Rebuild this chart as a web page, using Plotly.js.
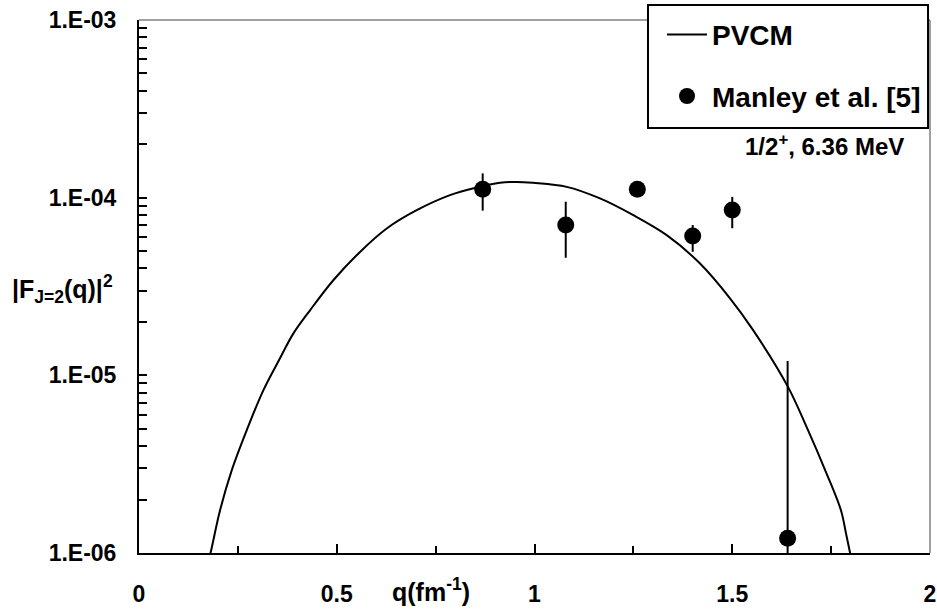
<!DOCTYPE html>
<html>
<head>
<meta charset="utf-8">
<script src="https://cdn.plot.ly/plotly-3.0.1.min.js"></script>
<style>html,body{margin:0;padding:0;background:#fff;}#chart{width:937px;height:609px;}</style>
</head>
<body>
<div id="chart"></div>
<script>
// PVCM curve
var curveQ = [0.1745, 0.1813, 0.2048, 0.2344, 0.2723, 0.3143, 0.3565, 0.3901, 0.4324, 0.4913, 0.5588, 0.6263, 0.7022, 0.7863, 0.8539, 0.9128, 0.955, 0.9962, 1.0814, 1.1656, 1.2498, 1.3343, 1.4185, 1.4943, 1.5532, 1.6402, 1.6882, 1.7388, 1.775, 1.7876, 1.7977, 1.8028];
var curveF = [8.84e-7, 1.010e-6, 1.736e-6, 2.916e-6, 4.90e-6, 8.23e-6, 1.247e-5, 1.717e-5, 2.323e-5, 3.429e-5, 4.951e-5, 6.708e-5, 8.50e-5, 1.033e-4, 1.141e-4, 1.212e-4, 1.227e-4, 1.212e-4, 1.150e-4, 9.90e-5, 7.97e-5, 6.15e-5, 4.26e-5, 2.715e-5, 1.792e-5, 8.67e-6, 5.11e-6, 2.79e-6, 1.735e-6, 1.29e-6, 1.007e-6, 8.84e-7];

// Manley et al. [5] data
var dataQ = [0.869, 1.079, 1.260, 1.400, 1.500, 1.640];
var dataF = [1.114e-4, 7.02e-5, 1.114e-4, 6.08e-5, 8.53e-5, 1.21e-6];
var errPlus = [2.56e-5, 2.47e-5, 0, 0.94e-5, 1.57e-5, 1.084e-5];
var errMinus = [2.69e-5, 2.43e-5, 0, 1.12e-5, 1.80e-5, 0.35e-6];

// ticks
var xTickVals = [0, 0.5, 1, 1.5, 2];
var xTickText = ['0', '0.5', '1', '1.5', '2'];
var yTickVals = [1e-6, 1e-5, 1e-4, 1e-3];
var yTickText = ['1.E-06', '1.E-05', '1.E-04', '1.E-03'];

var yMinor = [];
for (var d = -6; d < -3; d++) { for (var k = 2; k <= 9; k++) { yMinor.push(k * Math.pow(10, d)); } }

var FONT = 'Liberation Sans, Arial, Helvetica, sans-serif';

var traces = [
  {
    x: curveQ, y: curveF, type: 'scatter', mode: 'lines', name: 'PVCM',
    line: {color: '#000', width: 2, shape: 'spline', smoothing: 1}, legendgroup: 'a'
  },
  {
    x: dataQ, y: dataF, type: 'scatter', mode: 'markers', name: 'Manley et al. [5]',
    marker: {color: '#000', size: 17, symbol: 'circle'},
    error_y: {type: 'data', symmetric: false, array: errPlus, arrayminus: errMinus, color: '#000', thickness: 2, width: 0},
    legendgroup: 'b', cliponaxis: false
  }
];

var layout = {
  width: 937, height: 609,
  margin: {l: 139, r: 7, t: 20, b: 56, pad: 0},
  paper_bgcolor: '#fff', plot_bgcolor: '#fff',
  font: {family: FONT, size: 23, color: '#000', weight: 'bold'},
  showlegend: true,
  legend: {
    x: 0.6612, y: 1.019, xanchor: 'left', yanchor: 'top',
    bgcolor: 'rgba(0,0,0,0)', borderwidth: 0,
    font: {family: FONT, size: 28, color: '#000', weight: 'bold'},
    tracegroupgap: 22, traceorder: 'grouped', itemwidth: 40
  },
  xaxis: {
    range: [0, 2], tickmode: 'array', tickvals: xTickVals, ticktext: xTickText,
    ticks: 'inside', ticklen: 9, tickwidth: 2, tickcolor: '#000',
    showline: true, linecolor: '#000', linewidth: 2, mirror: false,
    showgrid: false, zeroline: false, ticklabelstandoff: 19,
    tickfont: {family: FONT, size: 23, color: '#000', weight: 'bold'},
    minor: {dtick: 0.25, ticks: 'inside', ticklen: 7, tickwidth: 2, tickcolor: '#000', showgrid: false}
  },
  yaxis: {
    type: 'log', range: [-6, -3], tickmode: 'array', tickvals: yTickVals, ticktext: yTickText,
    ticks: 'inside', ticklen: 8, tickwidth: 2, tickcolor: '#000',
    showline: true, linecolor: '#000', linewidth: 2, mirror: false,
    showgrid: false, zeroline: false, ticklabelstandoff: 16,
    tickfont: {family: FONT, size: 23, color: '#000', weight: 'bold'},
    minor: {tickmode: 'array', tickvals: yMinor, ticks: 'inside', ticklen: 8, tickwidth: 2, tickcolor: '#000', showgrid: false}
  },
  shapes: [
    {type: 'line', xref: 'paper', yref: 'paper', x0: 0, x1: 1, y0: 1, y1: 1, line: {color: '#808080', width: 1.5}},
    {type: 'line', xref: 'paper', yref: 'paper', x0: 1, x1: 1, y0: 0, y1: 1, line: {color: '#808080', width: 1.5}},
    {type: 'rect', xref: 'paper', yref: 'paper', x0: 0.6435, x1: 0.9975, y0: 0.7974, y1: 1.0281,
     fillcolor: '#fff', line: {color: '#000', width: 2}, layer: 'above'}
  ],
  annotations: [
    {xref: 'paper', yref: 'paper', x: 0.8666, y: 0.765, xanchor: 'center', yanchor: 'middle', showarrow: false,
     text: '1/2<sup>+</sup>, 6.36 MeV', font: {family: FONT, size: 24, color: '#000', weight: 'bold'}},
    {xref: 'paper', yref: 'paper', x: -0.0303, y: 0.495, xanchor: 'right', yanchor: 'middle', showarrow: false,
     text: '|F<sub>J=2</sub>(q)|<sup>2</sup>', font: {family: FONT, size: 25, color: '#000', weight: 'bold'}},
    {xref: 'paper', yref: 'paper', x: 0.369, y: -0.0694, xanchor: 'center', yanchor: 'middle', showarrow: false,
     text: 'q(fm<sup>-1</sup>)', font: {family: FONT, size: 25, color: '#000', weight: 'bold'}}
  ]
};

Plotly.newPlot('chart', traces, layout, {displayModeBar: false, staticPlot: true});
</script>
</body>
</html>
